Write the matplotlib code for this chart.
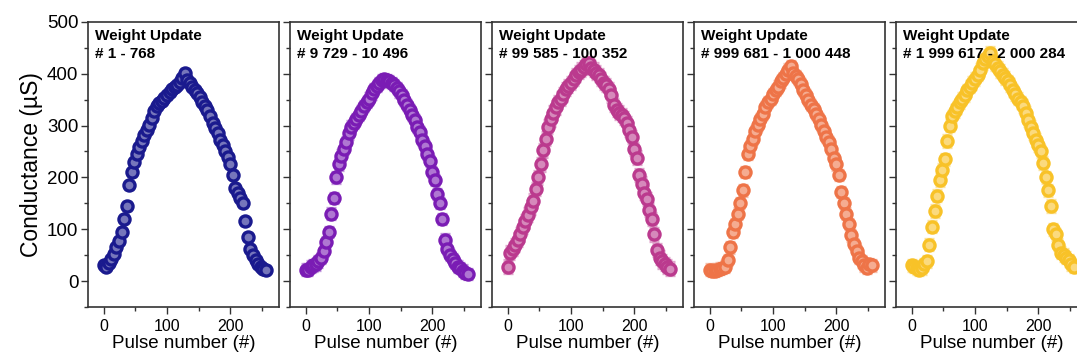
import matplotlib.pyplot as plt
import matplotlib.colors as mcolors
import numpy as np
from matplotlib.ticker import MultipleLocator

plt.rcParams['font.family'] = ['Liberation Sans', 'DejaVu Sans']

# pulse numbers (every 4th pulse of the 256-pulse update cycle)
PULSES = np.arange(0, 257, 4)

G_1 = [30, 28, 35, 42, 52, 65, 78, 95, 120, 145, 185, 210, 230, 245, 258, 270, 282,
       292, 302, 315, 328, 338, 343, 348, 353, 358, 364, 370, 375, 379, 384, 392, 402,
       388, 382, 375, 368, 362, 355, 345, 338, 330, 318, 305, 295, 285, 272, 262, 250,
       240, 225, 205, 180, 170, 160, 150, 115, 85, 62, 50, 40, 32, 28, 24, 22]
G_2 = [22, 22, 28, 30, 32, 38, 45, 58, 75, 95, 130, 160, 200, 225, 242, 255, 268,
       285, 298, 305, 313, 320, 328, 338, 346, 352, 362, 370, 376, 382, 387, 390, 388,
       385, 382, 378, 372, 366, 358, 350, 340, 330, 320, 310, 298, 288, 272, 260, 245,
       232, 210, 195, 168, 150, 120, 80, 62, 50, 42, 35, 28, 25, 20, 16, 14]
G_3 = [28, 55, 62, 70, 80, 90, 105, 115, 128, 142, 155, 178, 200, 225, 252, 275, 298,
       312, 325, 335, 345, 352, 360, 370, 376, 382, 390, 398, 403, 408, 413, 418, 420,
       412, 408, 402, 398, 390, 382, 378, 370, 358, 340, 330, 325, 320, 315, 305, 292,
       278, 255, 238, 205, 188, 170, 158, 138, 120, 90, 60, 45, 38, 33, 28, 24]
G_4 = [22, 20, 20, 22, 24, 25, 28, 40, 65, 95, 110, 130, 150, 175, 210, 245, 260,
       275, 290, 302, 312, 322, 335, 345, 352, 360, 368, 375, 385, 392, 400, 408, 415,
       402, 395, 390, 380, 368, 358, 350, 340, 332, 322, 312, 302, 290, 278, 268, 255,
       238, 225, 205, 172, 150, 130, 110, 88, 72, 58, 45, 38, 30, 25, 32, 30]
G_5 = [30, 28, 25, 22, 25, 32, 38, 70, 105, 135, 165, 195, 215, 235, 270, 300, 318,
       328, 335, 345, 352, 358, 368, 375, 382, 390, 398, 408, 420, 428, 435, 440, 425,
       418, 412, 405, 398, 392, 385, 378, 368, 360, 352, 345, 338, 325, 310, 298, 285,
       272, 262, 250, 228, 200, 175, 145, 100, 90, 70, 55, 50, 45, 40, 32, 28]

SERIES = [G_1, G_2, G_3, G_4, G_5]
ERRORS = [7, 10, 12, 10, 11]   # typical error bar half-height (uS)
LABELS = ["# 1 - 768", "# 9 729 - 10 496", "# 99 585 - 100 352",
          "# 999 681 - 1 000 448", "# 1 999 617 - 2 000 284"]
COLORS = ["#1a1a8e", "#7a1cb4", "#bb3a8e", "#ee7448", "#f8c228"]

fig = plt.figure(figsize=(10.77, 3.59), dpi=100)
lefts = [0.0817, 0.2693, 0.4568, 0.6444, 0.8319]

for i, (g, err, lab, col) in enumerate(zip(SERIES, ERRORS, LABELS, COLORS)):
    ax = fig.add_axes([lefts[i], 0.145, 0.1773, 0.794])
    rgb = np.array(mcolors.to_rgb(col))
    face = 0.6 * rgb + 0.4
    ax.errorbar(PULSES, g, yerr=err, fmt='o', ms=8, mec=col, mfc=face, mew=2.4,
                ecolor=mcolors.to_rgba(col, 0.45), elinewidth=1.0, capsize=3.5,
                capthick=1.0)
    ax.set_xlim(-25, 277)
    ax.set_ylim(-50, 500)
    ax.xaxis.set_major_locator(MultipleLocator(100))
    ax.xaxis.set_minor_locator(MultipleLocator(50))
    ax.yaxis.set_major_locator(MultipleLocator(100))
    ax.yaxis.set_minor_locator(MultipleLocator(50))
    ax.tick_params(which='major', direction='out', length=5, width=1, color='#333333')
    ax.tick_params(axis='x', labelsize=11.5)
    ax.tick_params(axis='y', labelsize=13.5, pad=2)
    ax.tick_params(which='minor', direction='out', length=3, width=1, color='#333333')
    for s in ax.spines.values():
        s.set_linewidth(1.2)
        s.set_color('#333333')
    if i > 0:
        ax.tick_params(axis='y', labelleft=False)
    else:
        ax.set_ylabel("Conductance (µS)", fontsize=16.5, labelpad=3)
    ax.set_xlabel("Pulse number (#)", fontsize=13.5, labelpad=1)
    ax.text(0.035, 0.975, "Weight Update\n" + lab, transform=ax.transAxes,
            ha='left', va='top', fontsize=11, fontweight='bold', linespacing=1.35,
            zorder=10)

fig.savefig("out.png", dpi=100)
